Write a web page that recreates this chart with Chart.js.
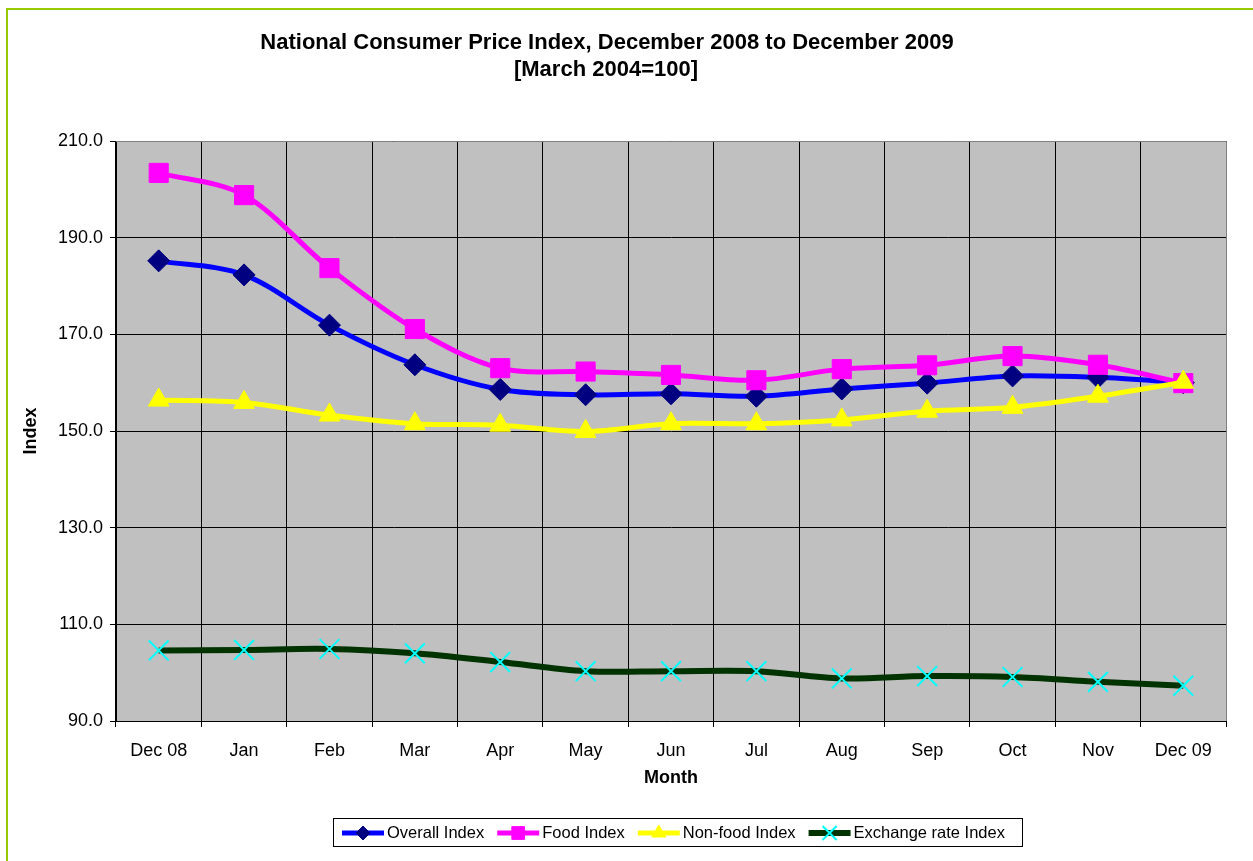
<!DOCTYPE html>
<html><head><meta charset="utf-8">
<script src="https://cdn.jsdelivr.net/npm/chart.js@4/dist/chart.umd.min.js"></script>
<style>html,body{margin:0;padding:0;background:#fff;}</style>
</head><body>
<canvas id="c" width="1253" height="861" style="display:block;width:1253px;height:861px"></canvas>
<script>
const months = ['Dec 08','Jan','Feb','Mar','Apr','May','Jun','Jul','Aug','Sep','Oct','Nov','Dec 09'];
const overallIndex = [185.2, 182.3, 171.9, 163.7, 158.6, 157.5, 157.7, 157.2, 158.7, 159.9, 161.4, 161.1, 160.0];
const foodIndex = [203.4, 198.8, 183.7, 171.1, 163.0, 162.3, 161.6, 160.5, 162.8, 163.6, 165.5, 163.7, 159.9];
const nonFoodIndex = [156.4, 155.9, 153.3, 151.5, 151.2, 149.9, 151.5, 151.5, 152.3, 154.1, 154.9, 157.2, 160.1];
const exchangeRateIndex = [104.6, 104.7, 104.9, 104.0, 102.2, 100.3, 100.3, 100.3, 98.8, 99.3, 99.1, 98.1, 97.3];
const yTicks = {min: 90, max: 210, step: 20};
const titleLines = ['National Consumer Price Index, December 2008 to December 2009', '[March 2004=100]'];
const xTitle = 'Month';
const yTitle = 'Index';

const FONT = '"Liberation Sans", Arial, sans-serif';

const decor = {
  id: 'decor',
  beforeDraw(chart) {
    const ctx = chart.ctx, a = chart.chartArea;
    ctx.save();
    ctx.fillStyle = '#ffffff';
    ctx.fillRect(0, 0, chart.width, chart.height);
    ctx.strokeStyle = '#99CC00';
    ctx.lineWidth = 2;
    ctx.strokeRect(7, 9, chart.width + 20, chart.height + 20);
    ctx.fillStyle = '#C0C0C0';
    ctx.fillRect(a.left, a.top, a.right - a.left, a.bottom - a.top);
    ctx.restore();
  },
  beforeDatasetsDraw(chart) {
    const ctx = chart.ctx, a = chart.chartArea;
    ctx.save();
    ctx.strokeStyle = '#808080';
    ctx.lineWidth = 1;
    ctx.beginPath();
    ctx.moveTo(a.left, a.top + 0.5); ctx.lineTo(a.right + 0.5, a.top + 0.5);
    ctx.lineTo(a.right + 0.5, a.bottom);
    ctx.stroke();
    ctx.restore();
  },
  afterDraw(chart) {
    const ctx = chart.ctx, a = chart.chartArea;
    ctx.save();
    // title
    ctx.fillStyle = '#000';
    ctx.textAlign = 'center';
    ctx.textBaseline = 'middle';
    ctx.font = 'bold 22px ' + FONT;
    ctx.fillText(titleLines[0], 607, 43);
    ctx.fillText(titleLines[1], 606, 70);
    // axis titles
    ctx.font = 'bold 18px ' + FONT;
    ctx.fillText(xTitle, (a.left + a.right) / 2, 778);
    ctx.save();
    ctx.translate(31, (a.top + a.bottom) / 2);
    ctx.rotate(-Math.PI / 2);
    ctx.fillText(yTitle, 0, 0);
    ctx.restore();
    // legend
    const bx = 333, by = 818, bw = 689, bh = 28;
    ctx.strokeStyle = '#000';
    ctx.lineWidth = 1;
    ctx.strokeRect(bx + 0.5, by + 0.5, bw, bh);
    ctx.font = '16.5px ' + FONT;
    ctx.textAlign = 'left';
    const cy = by + bh / 2 + 1;
    let x = 342;
    chart.data.datasets.forEach(ds => {
      ctx.strokeStyle = ds.borderColor;
      ctx.lineWidth = ds.borderWidth;
      ctx.beginPath();
      ctx.moveTo(x, cy); ctx.lineTo(x + 42, cy);
      ctx.stroke();
      ctx.fillStyle = ds.pointBackgroundColor;
      ctx.strokeStyle = ds.pointBorderColor;
      ctx.lineWidth = ds.pointBorderWidth;
      Chart.helpers.drawPoint(ctx, {pointStyle: ds.pointStyle, radius: ds.legendRadius, rotation: 0, borderWidth: ds.pointBorderWidth}, x + 21, cy);
      ctx.fillStyle = '#000';
      ctx.fillText(ds.label, x + 45, cy);
      x += 45 + ctx.measureText(ds.label).width + 13;
    });
    ctx.restore();
  }
};

new Chart(document.getElementById('c'), {
  type: 'line',
  data: {
    labels: months,
    datasets: [
      {label: 'Overall Index', data: overallIndex, borderColor: '#0000FF', borderWidth: 5,
       pointStyle: 'rectRot', pointRadius: 11, pointBackgroundColor: '#000080', pointBorderColor: '#000080',
       pointBorderWidth: 1, legendRadius: 7, order: 2},
      {label: 'Food Index', data: foodIndex, borderColor: '#FF00FF', borderWidth: 5,
       pointStyle: 'rect', pointRadius: 13.5, pointBackgroundColor: '#FF00FF', pointBorderColor: '#FF00FF',
       pointBorderWidth: 1, legendRadius: 9, order: 1},
      {label: 'Non-food Index', data: nonFoodIndex, borderColor: '#FFFF00', borderWidth: 5,
       pointStyle: 'triangle', pointRadius: 12, pointBackgroundColor: '#FFFF00', pointBorderColor: '#FFFF00',
       pointBorderWidth: 1, legendRadius: 8, order: 0},
      {label: 'Exchange rate Index', data: exchangeRateIndex, borderColor: '#003300', borderWidth: 6,
       pointStyle: 'crossRot', pointRadius: 14, pointBackgroundColor: '#00FFFF', pointBorderColor: '#00FFFF',
       pointBorderWidth: 2, legendRadius: 10, order: 3}
    ]
  },
  options: {
    responsive: false,
    animation: false,
    devicePixelRatio: 1,
    layout: {padding: {left: 0, top: 141, right: 27, bottom: 0}},
    elements: {line: {tension: 0.33}, point: {hoverRadius: 11}},
    plugins: {legend: {display: false}, title: {display: false}, tooltip: {enabled: false}},
    scales: {
      x: {
        offset: true,
        grid: {offset: true, color: '#000', lineWidth: 1, tickLength: 6, tickColor: '#000'},
        border: {color: '#000', width: 1},
        ticks: {color: '#000', font: {family: FONT, size: 18}, padding: 13, maxRotation: 0, autoSkip: false},
        afterFit(s) { s.height = 140; }
      },
      y: {
        min: yTicks.min, max: yTicks.max,
        grid: {color: '#000', lineWidth: 1, tickLength: 6, tickColor: '#000'},
        border: {color: '#000', width: 1},
        ticks: {stepSize: yTicks.step, color: '#000', font: {family: FONT, size: 18}, padding: 7,
                callback: v => Number(v).toFixed(1)},
        afterFit(s) { s.width = 116; }
      }
    }
  },
  plugins: [decor]
});
</script>
</body></html>
